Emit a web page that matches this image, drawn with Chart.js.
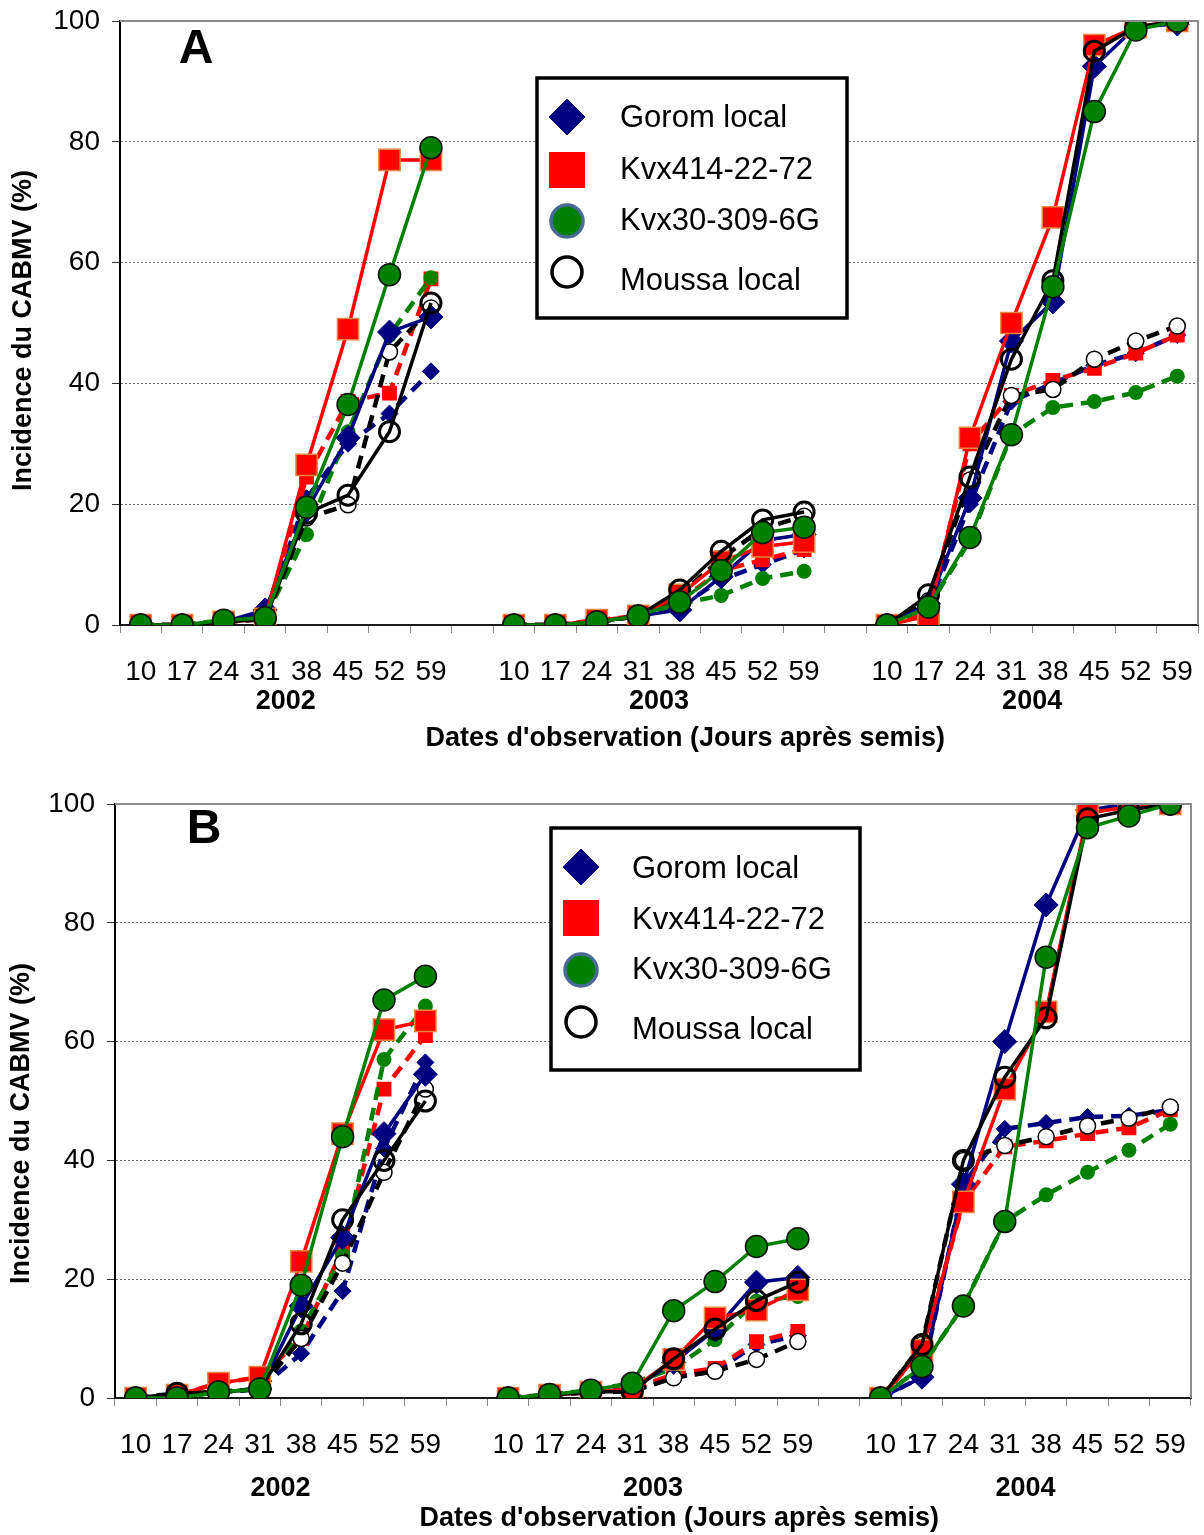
<!DOCTYPE html>
<html>
<head>
<meta charset="utf-8">
<script src="https://cdn.jsdelivr.net/npm/chart.js@4.4.1/dist/chart.umd.min.js"></script>
<style>
  html, body { margin: 0; padding: 0; background: #fff; }
  #wrap { position: relative; width: 1204px; height: 1535px; }
  .panel { position: absolute; left: 0; width: 1204px; height: 765px; }
</style>
</head>
<body>
<div id="wrap">
  <div class="panel" style="top:0"><canvas id="chartA" width="1204" height="765"></canvas></div>
  <div class="panel" style="top:770px"><canvas id="chartB" width="1204" height="765"></canvas></div>
</div>
<script>
// x categories: 8 observation dates per year, one empty slot between years
const days = ['10', '17', '24', '31', '38', '45', '52', '59'];
const years = ['2002', '2003', '2004'];
const labels = [...days, '', ...days, '', ...days];
const yearPos = [3.5, 12.5, 21.5];
const names = ['Gorom local', 'Kvx414-22-72', 'Kvx30-309-6G', 'Moussa local'];

// Panel A (solid = first series, dashed = second series)
const aGorom      = [0, 0, 0.5, 2.5, 19, 31, 48.5, 51,   null, 0, 0, 0.5, 1.5, 2.5, 8, 14, 15,        null, 0, 3.5, 21, 47, 53.5, 92.5, 99, 99.5];
const aGoromD     = [0, 0, 0.5, 2, 21, 30, 35, 42,       null, 0, 0, 0.5, 1.5, 3, 7.5, 10, 12.5,     null, 0, 3, 20, 37, 40, 43, 45, 48];
const aKvx414     = [0, 0, 0.5, 1, 26.5, 49, 77, 77,     null, 0, 0, 0.8, 1.5, 5, 10.5, 13, 13.8,     null, 0, 1.5, 31, 50, 67.5, 96, 99, 100];
const aKvx414D    = [0, 0, 0.5, 1, 24.5, 37, 38.4, 57.3, null, 0, 0, 0.8, 1.5, 4, 9, 10.8, 12.5,     null, 0, 2, 30, 38, 40.5, 42.5, 45, 48];
const aKvx30      = [0, 0, 0.8, 1.2, 19.5, 36.5, 58, 79, null, 0, 0, 0.5, 1.5, 3.8, 9, 15.3, 16.2,    null, 0, 3, 14.5, 31.5, 56, 85, 98.5, 100];
const aKvx30D     = [0, 0, 0.8, 1.2, 15, 32, 48, 57.5,   null, 0, 0, 0.5, 1.5, 3.5, 4.9, 7.7, 8.9,    null, 0, 3, 14, 31.5, 36, 37, 38.5, 41.2];
const aMoussa     = [0, 0, 0.5, 1, 18.5, 21.5, 32, 53.3, null, 0, 0, 0.5, 1.5, 5.8, 12.2, 17.4, 18.7, null, 0, 5, 24.5, 44, 57, 95, 99, 100];
const aMoussaD    = [0, 0, 0.5, 1, 17.7, 19.9, 45.2, 52.5, null, 0, 0, 0.5, 1.5, 5, 11, 16, 18,      null, 0, 4, 24, 38, 39, 44, 47, 49.5];

// Panel B
const bGorom      = [0, 0.5, 1, 1.5, 15.5, 27, 44.5, 54.5, null, 0, 0.5, 1, 1.5, 6, 11.5, 19.5, 20.3,   null, 0, 3.5, 36, 60, 83, 99, 100, 100];
const bGoromD     = [0, 0.5, 1, 1.5, 7.5, 18, 42, 56.5,    null, 0, 0.5, 1, 1.5, 3.5, 4.5, 9, 10.5,     null, 0, 3.5, 36, 45.3, 46.3, 47.3, 47.5, 48.5];
const bKvx414     = [0, 0.5, 2.5, 3.5, 23, 44.5, 62, 63.5, null, 0, 0.5, 1, 1.5, 6.5, 13.5, 14.8, 18.2, null, 0, 8, 33, 52, 65, 98.5, 99.5, 100];
const bKvx414D    = [0, 0.5, 2.5, 3.5, 10, 25, 52, 61,     null, 0, 0.5, 1, 1.5, 4, 5, 9.5, 11.2,      null, 0, 8, 33, 42.3, 43.3, 44.5, 45.5, 48.5];
const bKvx30      = [0, 0, 1, 1.5, 19, 44, 67, 71,         null, 0, 0.6, 1.3, 2.5, 14.7, 19.6, 25.5, 26.8, null, 0, 5.3, 15.5, 29.7, 74.2, 96, 98, 100];
const bKvx30D     = [0, 0, 1, 1.5, 11.3, 24, 57, 66,       null, 0, 0.6, 1.3, 2.5, 5, 9.8, 16.3, 17.1,  null, 0, 5.3, 15.5, 29.7, 34.2, 38, 41.7, 46.1];
const bMoussa     = [0, 0.8, 1, 1.5, 12.5, 30, 40, 50,     null, 0, 0.5, 1, 1.1, 6.6, 11.6, 16.4, 19.5, null, 0, 9, 40, 54, 64, 97.5, 99, 100];
const bMoussaD    = [0, 0.8, 1, 1.5, 10, 22.7, 38, 52,     null, 0, 0.5, 1, 1.1, 3.4, 4.5, 6.5, 9.5,    null, 0, 9, 40, 42.5, 44, 45.8, 47.1, 49];

Chart.defaults.font.family = '"Liberation Sans", Arial, sans-serif';
Chart.defaults.color = '#000';

const looks = {
  gorom:  { color: '#000080', shape: 'rectRot', r: 12, rs: 8.5, fill: '#000080', fillS: '#000080', edge: '#000080', ew: 1,   ewS: 1 },
  kvx414: { color: '#ff0000', shape: 'rect',    r: 15, rs: 10.5, fill: '#ff0000', fillS: '#ff0000', edge: '#e8843c', ew: 1.5, ewS: 0 },
  kvx30:  { color: '#008000', shape: 'circle',  r: 11, rs: 7.5, fill: '#008000', fillS: '#008000', edge: '#111',    ew: 1.5, ewS: 0 },
  moussa: { color: '#000000', shape: 'circle',  r: 10, rs: 8,   fill: 'rgba(0,0,0,0)', fillS: '#fff', edge: '#000', ew: 3, ewS: 1.5 }
};

function mkSet(label, data, s, dashed) {
  return {
    label, data,
    borderColor: s.color,
    borderWidth: dashed ? 4.5 : 3.5,
    borderDash: dashed ? [13, 8] : [],
    pointStyle: s.shape,
    pointRadius: dashed ? s.rs : s.r,
    pointBackgroundColor: dashed ? s.fillS : s.fill,
    pointBorderColor: s.edge,
    pointBorderWidth: dashed ? s.ewS : s.ew,
    tension: 0,
    spanGaps: false,
    fill: false
  };
}

const decor = {
  id: 'decor',
  afterDraw(chart, args, o) {
    const { ctx, chartArea: a } = chart;
    ctx.save();
    ctx.strokeStyle = '#8c8c8c';
    ctx.lineWidth = 2;
    ctx.beginPath();
    ctx.moveTo(a.left, a.top);
    ctx.lineTo(a.right, a.top);
    ctx.lineTo(a.right, a.bottom);
    ctx.stroke();

    ctx.fillStyle = '#000';
    ctx.font = 'bold 48px "Liberation Sans", Arial, sans-serif';
    ctx.textAlign = 'center';
    ctx.textBaseline = 'middle';
    ctx.fillText(o.letter, o.lx, o.ly);

    const L = o.legend;
    ctx.fillStyle = '#fff';
    ctx.fillRect(L.x, L.y, L.w, L.h);
    ctx.lineWidth = 3.5;
    ctx.strokeStyle = '#000';
    ctx.strokeRect(L.x, L.y, L.w, L.h);

    const marks = [
      { s: looks.gorom,  r: 18,   fill: '#000080', edge: '#000080', w: 1 },
      { s: looks.kvx414, r: 25.5, fill: '#ff0000', edge: '#ff0000', w: 0 },
      { s: looks.kvx30,  r: 16,   fill: '#008000', edge: '#4a6a96', w: 3.5 },
      { s: looks.moussa, r: 15,   fill: 'rgba(0,0,0,0)', edge: '#000', w: 3.5 }
    ];
    ctx.font = '31px "Liberation Sans", Arial, sans-serif';
    ctx.textAlign = 'left';
    marks.forEach((m, i) => {
      ctx.fillStyle = m.fill;
      ctx.strokeStyle = m.edge;
      ctx.lineWidth = m.w;
      Chart.helpers.drawPoint(ctx, { pointStyle: m.s.shape, radius: m.r, rotation: 0, borderWidth: m.w }, L.mx, L.my[i]);
      ctx.fillStyle = '#000';
      ctx.fillText(names[i], L.tx, L.ty[i]);
    });
    ctx.restore();
  }
};

function noPad(sc) {
  sc.paddingTop = 0;
  sc.paddingBottom = 0;
  sc.paddingLeft = 0;
  sc.paddingRight = 0;
}

function buildChart(id, s, P) {
  const datasets = [
    mkSet(names[2], s.kvx30, looks.kvx30, false),
    mkSet(names[3], s.moussa, looks.moussa, false),
    mkSet(names[1], s.kvx414, looks.kvx414, false),
    mkSet(names[0], s.gorom, looks.gorom, false),
    mkSet(names[3], s.moussaD, looks.moussa, true),
    mkSet(names[2], s.kvx30D, looks.kvx30, true),
    mkSet(names[1], s.kvx414D, looks.kvx414, true),
    mkSet(names[0], s.goromD, looks.gorom, true)
  ];
  return new Chart(document.getElementById(id), {
    type: 'line',
    data: { labels, datasets },
    plugins: [decor],
    options: {
      responsive: false,
      devicePixelRatio: 1,
      animation: false,
      layout: { padding: P.pad, autoPadding: false },
      plugins: {
        legend: { display: false },
        tooltip: { enabled: false },
        decor: { letter: P.letter, lx: P.lx, ly: P.ly, legend: P.legend }
      },
      scales: {
        x: {
          type: 'category',
          position: 'bottom',
          weight: 0,
          offset: true,
          grid: { display: true, drawOnChartArea: false, drawTicks: true, tickLength: 8, tickColor: '#8a8a8a', offset: true },
          border: { display: true, color: '#1a1a1a', width: 2 },
          ticks: { autoSkip: false, maxRotation: 0, minRotation: 0, padding: 22, color: '#000', font: { size: 28 } },
          afterFit: sc => { sc.height = P.xH; noPad(sc); }
        },
        x2: {
          type: 'linear',
          position: 'bottom',
          weight: 1,
          min: -0.5,
          max: 25.5,
          grid: { display: false, drawTicks: false },
          border: { display: false },
          afterBuildTicks: sc => { sc.ticks = yearPos.map(v => ({ value: v })); },
          ticks: {
            autoSkip: false, maxRotation: 0, padding: P.yearPad, color: '#000',
            font: { size: 27, weight: 'bold' },
            callback: (v, i) => years[i]
          },
          title: {
            display: true,
            // leading spaces shift the centred title right, as in the original figure
            text: "\u00a0\u00a0\u00a0\u00a0\u00a0\u00a0\u00a0Dates d'observation (Jours après semis)",
            color: '#000',
            font: { size: 27, weight: 'bold' },
            padding: { top: 0, bottom: P.titlePad }
          },
          afterFit: sc => { sc.height = P.x2H; noPad(sc); }
        },
        y: {
          min: 0,
          max: 100,
          ticks: { stepSize: 20, padding: 12, color: '#000', font: { size: 28 } },
          grid: { color: '#6a6a6a', lineWidth: 1, drawTicks: true, tickLength: 8, tickColor: '#333' },
          border: { display: true, color: '#000', width: 2, dash: [2, 2] },
          title: {
            display: true,
            // trailing spaces push the rotated title a little lower, as in the original
            text: 'Incidence du CABMV (%)' + P.yTitleTail,
            color: '#000',
            font: { size: 27, weight: 'bold' },
            padding: { top: P.yTitlePad, bottom: 0 }
          },
          afterFit: sc => { sc.width = P.yW; noPad(sc); }
        }
      }
    }
  });
}

buildChart('chartA', {
  gorom: aGorom, goromD: aGoromD, kvx414: aKvx414, kvx414D: aKvx414D,
  kvx30: aKvx30, kvx30D: aKvx30D, moussa: aMoussa, moussaD: aMoussaD
}, {
  pad: { top: 21, right: 6, left: 0, bottom: 0 },
  yW: 120, xH: 60, x2H: 80, yearPad: 0, titlePad: 10.5, yTitlePad: 7,
  yTitleTail: '\u00a0\u00a0',
  letter: 'A', lx: 196, ly: 50,
  legend: { x: 537, y: 78, w: 310, h: 240, mx: 567, my: [117, 170, 221, 272], tx: 620, ty: [118, 170, 221, 281] }
});

buildChart('chartB', {
  gorom: bGorom, goromD: bGoromD, kvx414: bKvx414, kvx414D: bKvx414D,
  kvx30: bKvx30, kvx30D: bKvx30D, moussa: bMoussa, moussaD: bMoussaD
}, {
  pad: { top: 34, right: 13, left: 0, bottom: 0 },
  yW: 115, xH: 60, x2H: 77, yearPad: 14, titlePad: 0, yTitlePad: 5,
  yTitleTail: '\u00a0\u00a0\u00a0\u00a0\u00a0\u00a0',
  letter: 'B', lx: 204, ly: 60,
  legend: { x: 551, y: 58, w: 309, h: 242, mx: 581, my: [97, 148, 200, 252], tx: 632, ty: [99, 150, 200, 260] }
});
</script>
</body>
</html>
